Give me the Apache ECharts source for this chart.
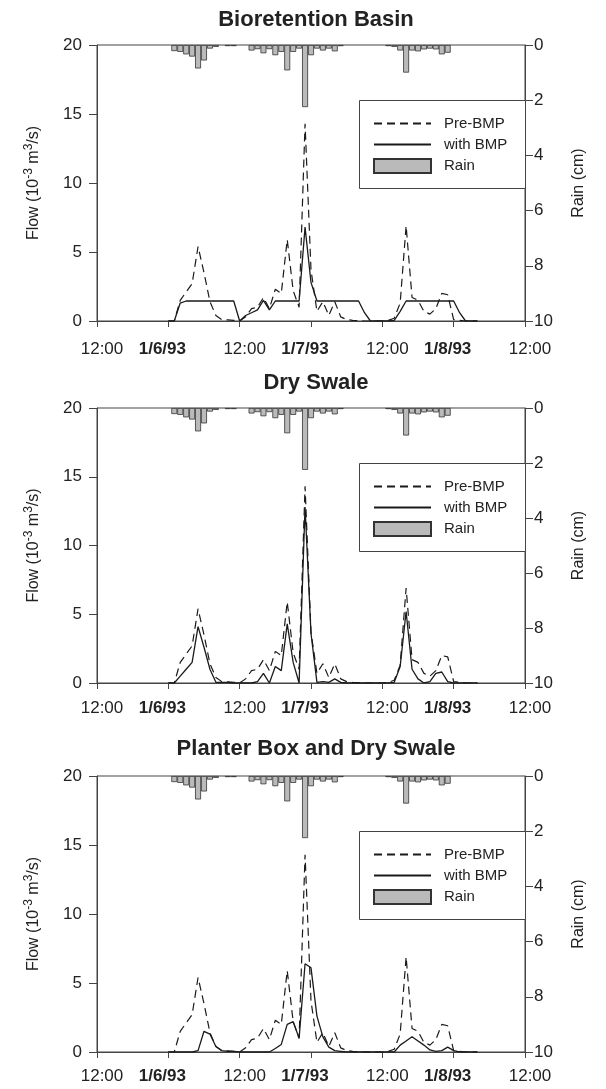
<!DOCTYPE html>
<html>
<head>
<meta charset="utf-8">
<script src="https://cdn.jsdelivr.net/npm/echarts@6/dist/echarts.min.js"></script>
<style>
html,body{margin:0;padding:0;background:#fff;}
#c{width:606px;height:1089px;}
</style>
</head>
<body>
<div id="c"></div>
<script>
// ---------- DATA ----------
// hours counted from 1/5/93 12:00
const panelTitles = ['Bioretention Basin', 'Dry Swale', 'Planter Box and Dry Swale'];
const xTickLabels = ['12:00', '1/6/93', '12:00', '1/7/93', '12:00', '1/8/93', '12:00'];
const xTickBold = [false, true, false, true, false, true, false];
const flowTicks = [0, 5, 10, 15, 20];
const rainTicks = [0, 2, 4, 6, 8, 10];

const flowHours = [12,13,14,15,16,17,18,19,20,21,22,23,24,25,26,27,28,29,30,31,32,33,34,35,36,37,38,39,40,41,42,43,44,45,46,47,48,49,50,51,52,53,54,55,56,57,58,59,60,61,62,63,64];

const preBMP = [0,0,1.5,2.1,2.7,5.4,3.5,1.4,0.4,0.1,0.08,0.05,0,0.3,0.9,1.0,1.7,0.9,2.3,2.0,5.9,2.2,1.0,14.3,3.7,0.7,1.4,0.4,1.4,0.3,0.1,0.05,0.02,0,0,0,0,0.05,0.2,1.3,6.9,1.7,1.5,0.7,0.5,0.9,2.0,1.9,0.1,0.05,0,0,0];

const bmpBioretention = [0,0,1.3,1.45,1.45,1.45,1.45,1.45,1.45,1.45,1.45,1.45,0,0.4,0.6,0.8,1.5,0.8,1.45,1.45,1.45,1.45,1.45,6.8,2.8,1.45,1.45,1.45,1.45,1.45,1.45,1.45,1.45,0.6,0,0,0,0,0.05,0.7,1.45,1.45,1.45,1.45,1.45,1.45,1.45,1.45,1.45,0.6,0,0,0];

const bmpDrySwale = [0,0,0.5,1.0,1.5,4.1,2.6,1.0,0.05,0.05,0.05,0,0,0,0,0.1,0.7,0,1.2,0.9,4.3,1.5,0,12.8,3.6,0.05,0.1,0.05,0.3,0.05,0,0,0,0,0,0,0,0,0.05,1.2,5.2,1.0,0.3,0,0.1,0.7,0.8,0.1,0,0,0,0,0];

const bmpPlanterSwale = [0,0,0,0,0,0.1,1.5,1.3,0.4,0.1,0.05,0.05,0,0,0,0,0,0,0.25,0.55,2.0,2.2,1.0,6.4,6.1,2.6,1.1,0.35,0.1,0.05,0,0,0,0,0,0,0,0,0,0.5,0.8,1.1,0.8,0.5,0.15,0.05,0.1,0.35,0.1,0,0,0,0];

const rainHours = [13,14,15,16,17,18,19,20,22,23,26,27,28,29,30,31,32,33,34,35,36,37,38,39,40,41,49,50,51,52,53,54,55,56,57,58,59];
const rainCm = [0.22,0.25,0.34,0.42,0.85,0.56,0.13,0.07,0.04,0.04,0.2,0.15,0.3,0.15,0.37,0.25,0.92,0.25,0.13,2.25,0.37,0.13,0.2,0.13,0.23,0.04,0.04,0.07,0.2,1.0,0.2,0.23,0.16,0.13,0.16,0.34,0.28];

const bmpSeries = [bmpBioretention, bmpDrySwale, bmpPlanterSwale];

// ---------- LAYOUT ----------
const FONT = "'Liberation Sans', Arial, sans-serif";
const TXT = '#222';
const AX = '#444';
const gridLeft = 97, gridRight = 81;
const gridTops = [45, 408, 776];
const gridHeights = [276, 275, 276];
const titleTops = [4, 367, 733];
const xLabelMargins = [20, 17, 16];
const plotW = 606 - gridLeft - gridRight;
const barW = plotW / 72;

const chart = echarts.init(document.getElementById('c'), null, {renderer: 'canvas'});

const grids = [], xAxes = [], yAxes = [], series = [], titles = [], legends = [], graphics = [];

for (let i = 0; i < 3; i++) {
  grids.push({left: gridLeft, right: gridRight, top: gridTops[i], height: gridHeights[i],
    show: true, borderColor: AX, borderWidth: 1, backgroundColor: 'transparent'});
  titles.push({text: panelTitles[i], left: gridLeft + plotW / 2, textAlign: 'center', top: titleTops[i],
    textStyle: {fontFamily: FONT, fontSize: 22, fontWeight: 'bold', color: TXT}});
  xAxes.push({type: 'value', gridIndex: i, min: 0, max: 72, interval: 12,
    axisLine: {show: true, lineStyle: {color: AX, width: 1}},
    axisTick: {show: true, inside: false, length: 6, lineStyle: {color: AX}},
    splitLine: {show: false},
    axisLabel: {margin: xLabelMargins[i], color: TXT, fontFamily: FONT, fontSize: 17,
      formatter: function (v) {
        const k = Math.round(v / 12);
        return xTickBold[k] ? '{d|' + xTickLabels[k] + '}' : '{t|' + xTickLabels[k] + '}';
      },
      rich: {
        t: {fontFamily: FONT, fontSize: 17, color: TXT, padding: [0, 0, 0, 10]},
        d: {fontFamily: FONT, fontSize: 17, fontWeight: 'bold', color: TXT, padding: [0, 12, 0, 0]}
      }}
  });
  yAxes.push({type: 'value', gridIndex: i, position: 'left', min: flowTicks[0], max: flowTicks[flowTicks.length - 1], interval: 5,
    axisLine: {show: true, lineStyle: {color: AX}},
    axisTick: {show: true, inside: false, length: 8, lineStyle: {color: AX}},
    splitLine: {show: false},
    axisLabel: {margin: 15, color: TXT, fontFamily: FONT, fontSize: 17},
    name: 'Flow (10{sup|-3} m{sup|3}/s)', nameLocation: 'middle', nameRotate: 90, nameGap: 52,
    nameTextStyle: {fontFamily: FONT, fontSize: 16, color: TXT, lineHeight: 22,
      rich: {sup: {fontFamily: FONT, fontSize: 12, color: TXT, verticalAlign: 'top', lineHeight: 12}}}
  });
  yAxes.push({type: 'value', gridIndex: i, position: 'right', inverse: true, min: rainTicks[0], max: rainTicks[rainTicks.length - 1], interval: 2,
    axisLine: {show: true, lineStyle: {color: AX}},
    axisTick: {show: true, inside: false, length: 8, lineStyle: {color: AX}},
    splitLine: {show: false},
    axisLabel: {margin: 9, color: TXT, fontFamily: FONT, fontSize: 17},
    name: 'Rain (cm)', nameLocation: 'middle', nameRotate: 90, nameGap: 46,
    nameTextStyle: {fontFamily: FONT, fontSize: 16, color: TXT}
  });
  series.push({name: 'Rain', type: 'bar', xAxisIndex: i, yAxisIndex: 2 * i + 1,
    barWidth: barW, z: 1,
    itemStyle: {color: '#bababa', borderColor: '#333', borderWidth: 0.8},
    data: rainHours.map((h, k) => [h, rainCm[k]])});
  series.push({name: 'Pre-BMP', type: 'line', xAxisIndex: i, yAxisIndex: 2 * i,
    symbol: 'none', z: 3,
    lineStyle: {color: '#1a1a1a', width: 1.2, type: [8, 5]},
    itemStyle: {color: '#1a1a1a'},
    data: flowHours.map((h, k) => [h, preBMP[k]])});
  series.push({name: 'with BMP', type: 'line', xAxisIndex: i, yAxisIndex: 2 * i,
    symbol: 'none', z: 4,
    lineStyle: {color: '#1a1a1a', width: 1.3, type: 'solid'},
    itemStyle: {color: '#1a1a1a'},
    data: flowHours.map((h, k) => [h, bmpSeries[i][k]])});
  const boxTop = gridTops[i] + 55;
  graphics.push({type: 'rect', left: 359, top: boxTop, z: 50,
    shape: {width: 166, height: 88},
    style: {fill: '#fff', stroke: AX, lineWidth: 1}});
  legends.push({orient: 'vertical', left: 373, top: boxTop + 16, z: 60,
    itemWidth: 57, itemHeight: 14, itemGap: 6, padding: 0, selectedMode: false,
    data: [
      {name: 'Pre-BMP', itemStyle: {opacity: 0}},
      {name: 'with BMP', itemStyle: {opacity: 0}},
      {name: 'Rain', icon: 'rect'}
    ],
    textStyle: {fontFamily: FONT, fontSize: 15, color: TXT, padding: [0, 0, 0, 8]}});
}

chart.setOption({
  animation: false,
  backgroundColor: '#fff',
  textStyle: {fontFamily: FONT},
  title: titles,
  grid: grids,
  xAxis: xAxes,
  yAxis: yAxes,
  legend: legends,
  graphic: graphics,
  series: series
});
</script>
</body>
</html>
